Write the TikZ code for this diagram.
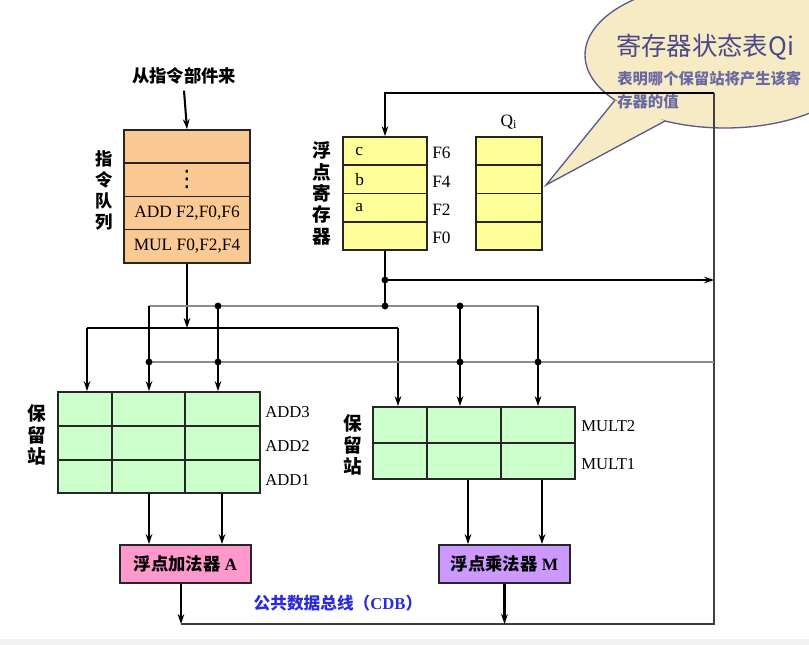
\documentclass[tikz,border=0pt]{standalone}
\usepackage{fontspec}
\setmainfont{Liberation Serif}
\newfontfamily\cjk{Noto Sans CJK SC}
\newfontfamily\dejavu{DejaVu Sans}
\usetikzlibrary{arrows.meta}
\definecolor{qfill}{HTML}{FBC994}
\definecolor{regfill}{HTML}{FFFF99}
\definecolor{rsfill}{HTML}{CCFFCC}
\definecolor{addfill}{HTML}{FF99CC}
\definecolor{mulfill}{HTML}{CC99FF}
\definecolor{bubfill}{HTML}{F7EBC5}
\definecolor{bubline}{HTML}{5B5B8F}
\definecolor{bubtext}{HTML}{4A4A8A}
\definecolor{bubsub}{HTML}{6A6AA3}
\definecolor{cdbblue}{HTML}{2B2BD9}
\definecolor{strip}{HTML}{F2F2F2}
\tikzset{
  box/.style={draw=black!85, line width=1.3pt, inner sep=0pt},
  qcell/.style={box, fill=qfill, minimum width=94.5pt, minimum height=24.9pt,
    font=\fontsize{13pt}{15pt}\selectfont},
  rcell/.style={box, fill=regfill, minimum width=63pt, minimum height=21.2pt},
  qicell/.style={box, fill=regfill, minimum width=49.5pt, minimum height=21.2pt},
  rsbox/.style={box, fill=rsfill},
  fu/.style={box, minimum width=98.25pt, minimum height=28.5pt,
    font=\bfseries\fontsize{13pt}{15pt}\selectfont},
  grid/.style={draw=black!85, line width=1.1pt},
  lbl/.style={inner sep=0pt, font=\fontsize{13pt}{15pt}\selectfont},
  rslbl/.style={inner sep=0pt, anchor=west, font=\fontsize{12.5pt}{15pt}\selectfont},
  vlab/.style={inner sep=0pt, align=center, font=\cjk\bfseries\fontsize{14pt}{16pt}\selectfont},
  main/.style={line width=1.55pt, draw=black},
  thinl/.style={line width=0.9pt, draw=black!45},
  bus/.style={line width=1.15pt, draw=black!75},
  arr/.style={-{Stealth[length=7.5pt,width=5pt]}},
  dot/.style={circle, fill=black, inner sep=0pt, minimum size=5.2pt},
}
\begin{document}
\begin{tikzpicture}[x=0.75pt,y=-0.75pt]
\useasboundingbox (0,0) rectangle (809,645);
\clip (0,0) rectangle (809,645);
\fill[strip] (0,639) rectangle (809,645);

% speech bubble
\draw[fill=bubfill, draw=bubline, line width=1pt] (725,55) ellipse [x radius=105pt, y radius=54.75pt];
\fill[bubfill] (615,100.2) -- (546,185) -- (665,121) -- cycle;
\draw[draw=bubline, line width=1pt] (615,100.2) -- (546,185) -- (665,121);
\node[anchor=west, inner sep=0pt, text=bubtext, font=\cjk\fontsize{19pt}{22pt}\selectfont] (bt) at (616,47) {寄存器状态表Qi};
\node[anchor=west, inner sep=0pt, text=bubsub, font=\cjk\bfseries\fontsize{11.5pt}{14pt}\selectfont] (bs1) at (617,79) {表明哪个保留站将产生该寄};
\node[anchor=west, inner sep=0pt, text=bubsub, font=\cjk\bfseries\fontsize{11.5pt}{14pt}\selectfont] (bs2) at (617,102) {存器的值};

% instruction queue
\node[inner sep=0pt, font=\cjk\bfseries\fontsize{13pt}{15pt}\selectfont] (src) at (184,76) {从指令部件来};
\node[qcell] (q1) at (187,146.6) {};
\node[qcell, font=\dejavu\fontsize{17pt}{17pt}\selectfont] (q2) at (187,179.8) {⋮};
\node[qcell] (q3) at (187,213) {ADD F2,F0,F6};
\node[qcell] (q4) at (187,246.2) {MUL F0,F2,F4};
\node[vlab, font=\cjk\bfseries\fontsize{13pt}{15.75pt}\selectfont] (lq) at (104,190) {指\\令\\队\\列};

% floating point registers
\node[rcell] (r6) at (385,151.1) {};
\node[rcell] (r4) at (385,179.4) {};
\node[rcell] (r2) at (385,207.6) {};
\node[rcell] (r0) at (385,235.9) {};
\node[lbl, anchor=west] (tc) at (355,151.1) {c};
\node[lbl, anchor=west] (tb) at (355,179.4) {b};
\node[lbl, anchor=west] (ta) at (355,207.6) {a};
\node[lbl, anchor=west] (f6) at (432,153) {F6};
\node[lbl, anchor=west] (f4) at (432,181.5) {F4};
\node[lbl, anchor=west] (f2) at (432,209.5) {F2};
\node[lbl, anchor=west] (f0) at (432,237.5) {F0};
\node[vlab] (lr) at (322,193.5) {浮\\点\\寄\\存\\器};

% Qi table
\node[qicell] (s6) at (509,151.1) {};
\node[qicell] (s4) at (509,179.4) {};
\node[qicell] (s2) at (509,207.6) {};
\node[qicell] (s0) at (509,235.9) {};
\node[lbl] (qi) at (509,122) {Q\textsubscript{i}};

% reservation stations
\node[rsbox, minimum width=151.5pt, minimum height=75.75pt] (addrs) at (159,442.5) {};
\draw[grid] (112,392) -- (112,493);
\draw[grid] (185,392) -- (185,493);
\draw[grid] (58,426) -- (260,426);
\draw[grid] (58,460) -- (260,460);
\node[rslbl] (a3) at (265,412) {ADD3};
\node[rslbl] (a2) at (265,446) {ADD2};
\node[rslbl] (a1) at (265,480) {ADD1};
\node[vlab] (la) at (37,435) {保\\留\\站};

\node[rsbox, minimum width=151.5pt, minimum height=54pt] (mulrs) at (474,443) {};
\draw[grid] (427,407) -- (427,479);
\draw[grid] (501,407) -- (501,479);
\draw[grid] (373,443) -- (575,443);
\node[rslbl] (m2) at (581,426) {MULT2};
\node[rslbl] (m1) at (581,464) {MULT1};
\node[vlab] (lm) at (353,445) {保\\留\\站};

% functional units
\node[fu, fill=addfill] (add) at (185.5,564) {{\cjk 浮点加法器} A};
\node[fu, fill=mulfill] (mul) at (504.5,564) {{\cjk 浮点乘法器} M};
\node[inner sep=0pt, text=cdbblue, font=\bfseries\fontsize{12.5pt}{15pt}\selectfont] (cdb) at (338,603) {{\cjk 公共数据总线（}CDB{\cjk ）}};

% coordinates
\coordinate (tr) at (714,93);
\coordinate (br) at (714,624);
\coordinate (bl) at (181,624);
\coordinate (iL) at (87,328);
\coordinate (iR) at (398,328);
\coordinate (rj1) at (385,280);
\coordinate (rj2) at (385,306);
\coordinate (o1) at (149,306);
\coordinate (o2) at (218,306);
\coordinate (o3) at (460,306);
\coordinate (o4) at (538,306);
\coordinate (c1) at (149,362);
\coordinate (c2) at (218,362);
\coordinate (c3) at (460,362);
\coordinate (c4) at (538,362);
\coordinate (ax1) at (149,0);
\coordinate (ax2) at (222,0);
\coordinate (mx1) at (468,0);
\coordinate (mx2) at (542,0);

% bus loop
\draw[bus] (bl) -- (br) -- (tr);
\draw[main, arr] (tr) -- (tr -| r6.north) -- (r6.north);

% instruction path
\draw[main, arr] (src.south) ++(0,6) -- (q1.north);
\draw[main, arr] (q4.south) -- (q4.south |- iL);
\draw[main] (iL) -- (iR);
\draw[main, arr] (iL) -- (iL |- addrs.north);
\draw[main, arr] (iR) -- (iR |- mulrs.north);

% register output
\draw[main] (r0.south) -- (rj2);
\draw[main, arr] (rj1) -- (rj1 -| tr);
\draw[thinl] (o1) -- (o4);
\draw[thinl] (c1) -- (c1 -| tr);
\draw[main, arr] (o1) -- (o1 |- addrs.north);
\draw[main, arr] (o2) -- (o2 |- addrs.north);
\draw[main, arr] (o3) -- (o3 |- mulrs.north);
\draw[main, arr] (o4) -- (o4 |- mulrs.north);
\node[dot] (d1) at (rj1) {};
\node[dot] (d2) at (rj2) {};
\node[dot] (d3) at (o2) {};
\node[dot] (d4) at (o3) {};
\node[dot] (d5) at (c1) {};
\node[dot] (d6) at (c2) {};
\node[dot] (d7) at (c3) {};
\node[dot] (d8) at (c4) {};

% to functional units
\draw[main, arr] (addrs.south -| ax1) -- (add.north -| ax1);
\draw[main, arr] (addrs.south -| ax2) -- (add.north -| ax2);
\draw[main, arr] (mulrs.south -| mx1) -- (mul.north -| mx1);
\draw[main, arr] (mulrs.south -| mx2) -- (mul.north -| mx2);
\draw[main, arr] (add.south -| bl) -- (bl);
\draw[main, arr] (mul.south) -- (mul.south |- bl);
\end{tikzpicture}
\end{document}
